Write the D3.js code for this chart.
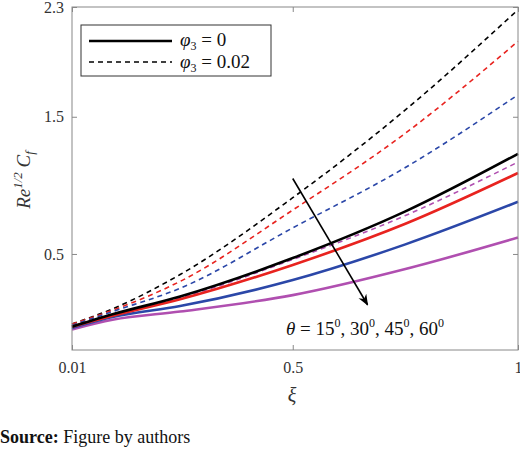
<!DOCTYPE html>
<html><head><meta charset="utf-8">
<script src="https://cdn.jsdelivr.net/npm/d3@7"></script>
<style>body{margin:0;background:#fff}</style>
</head><body><svg id="c" width="520" height="450" font-family="'Liberation Serif','DejaVu Serif',serif"></svg>
<script>
var xs = [0.01, 0.1, 0.25, 0.5, 0.75, 1]
// phi3 = 0 (solid) for theta = 15, 30, 45, 60
var solid15 = [-0.03, 0.06, 0.19, 0.47, 0.81, 1.23]
var solid30 = [-0.03, 0.05, 0.17, 0.42, 0.72, 1.09]
var solid45 = [-0.04, 0.04, 0.12, 0.31, 0.57, 0.88]
var solid60 = [-0.05, 0.02, 0.08, 0.20, 0.39, 0.62]
// phi3 = 0.02 (dashed)
var dash15 = [-0.01, 0.10, 0.35, 0.91, 1.55, 2.28]
var dash30 = [-0.01, 0.09, 0.30, 0.82, 1.38, 2.05]
var dash45 = [-0.02, 0.08, 0.25, 0.69, 1.13, 1.66]
var dash60 = [-0.03, 0.06, 0.18, 0.46, 0.78, 1.17]
var colors = ['#000000', '#e8231f', '#2b47a8', '#b04fb0']
var xTicks = [0.01, 0.5, 1]
var yTicks = [0.5, 1.5, 2.3]
var serif = "'Liberation Serif','DejaVu Serif',serif"

var svg = d3.select('#c')
var L = 72, R = 518, T = 7, B = 350
var x = d3.scaleLinear().domain([0.01, 1]).range([L, R])
var y = d3.scaleLinear().domain([-0.2, 2.3]).range([B, T])
var line = d3.line().x(function (d, i) { return x(xs[i]) }).y(function (d) { return y(d) }).curve(d3.curveMonotoneX)

var dashed = [dash15, dash30, dash45, dash60]
var solids = [solid15, solid30, solid45, solid60]
dashed.forEach(function (s, i) {
    svg.append('path').attr('d', line(s)).attr('fill', 'none')
        .attr('stroke', colors[i]).attr('stroke-width', 1.6).attr('stroke-dasharray', '5,4')
})
for (var i = 3; i >= 0; i--) {
    svg.append('path').attr('d', line(solids[i])).attr('fill', 'none')
        .attr('stroke', colors[i]).attr('stroke-width', 2.6)
}

// axes box
svg.append('rect').attr('x', L).attr('y', T).attr('width', R - L).attr('height', B - T)
    .attr('fill', 'none').attr('stroke', '#888').attr('stroke-width', 1)
svg.append('g').attr('transform', 'translate(0,' + B + ')')
    .call(d3.axisBottom(x).tickValues(xTicks).tickSize(-5).tickFormat(d3.format('')))
svg.append('g').attr('transform', 'translate(0,' + T + ')')
    .call(d3.axisTop(x).tickValues(xTicks).tickSize(-5).tickFormat(''))
svg.append('g').attr('transform', 'translate(' + L + ',0)')
    .call(d3.axisLeft(y).tickValues(yTicks).tickSize(-5).tickFormat(d3.format('')))
svg.append('g').attr('transform', 'translate(' + R + ',0)')
    .call(d3.axisRight(y).tickValues(yTicks).tickSize(-5).tickFormat(''))
svg.selectAll('.domain').remove()
svg.selectAll('g').attr('font-family', serif)
svg.selectAll('.tick line').attr('stroke', '#888')
svg.selectAll('.tick text').attr('font-size', 16).attr('fill', '#333')
svg.selectAll('.tick text').each(function (d) {
    var t = d3.select(this)
    if (t.attr('dy') === '0.71em') { t.attr('y', 12); if (d === 1) t.attr('text-anchor', 'end').attr('dx', 4) }
    else t.attr('x', -8)
})

// labels
svg.append('text').attr('x', 292).attr('y', 402).attr('text-anchor', 'middle')
    .attr('font-size', 20).attr('font-style', 'italic').attr('fill', '#333').text('ξ')
var yl = svg.append('text').attr('transform', 'translate(30,180) rotate(-90)').attr('text-anchor', 'middle')
    .attr('font-size', 19).attr('font-style', 'italic').attr('fill', '#333')
yl.append('tspan').text('Re')
yl.append('tspan').attr('font-size', 13).attr('dy', -8).text('1/2')
yl.append('tspan').attr('dy', 8).text(' C')
yl.append('tspan').attr('font-size', 13).attr('dy', 4).text('f')

// arrow
svg.append('defs').append('marker').attr('id', 'ah').attr('viewBox', '0 0 10 10')
    .attr('refX', 9).attr('refY', 5).attr('markerWidth', 7).attr('markerHeight', 7).attr('orient', 'auto')
    .append('path').attr('d', 'M0,1 L10,5 L0,9 L3,5 Z').attr('fill', '#000')
svg.append('line').attr('x1', x(0.5)).attr('y1', y(1.05)).attr('x2', x(0.666)).attr('y2', y(0.13))
    .attr('stroke', '#000').attr('stroke-width', 1.6).attr('marker-end', 'url(#ah)')
var th = svg.append('text').attr('x', x(0.485)).attr('y', y(-0.09)).attr('font-size', 19).attr('fill', '#111')
th.append('tspan').attr('font-style', 'italic').text('θ')
;['15', '30', '45', '60'].forEach(function (v, i) {
    th.append('tspan').attr('dy', i ? 8 : 0).text((i ? ', ' : ' = ') + v)
    th.append('tspan').attr('font-size', 12).attr('dy', -8).text('0')
})

// legend
var lg = svg.append('g')
lg.append('rect').attr('x', 81).attr('y', 25).attr('width', 190).attr('height', 51)
    .attr('fill', '#fff').attr('stroke', '#333').attr('stroke-width', 1)
lg.append('line').attr('x1', 89).attr('x2', 172).attr('y1', 41).attr('y2', 41).attr('stroke', '#000').attr('stroke-width', 2.6)
lg.append('line').attr('x1', 89).attr('x2', 172).attr('y1', 62).attr('y2', 62).attr('stroke', '#000').attr('stroke-width', 1.6).attr('stroke-dasharray', '5,4')
;['0', '0.02'].forEach(function (v, i) {
    var t = lg.append('text').attr('x', 180).attr('y', 46 + i * 22).attr('font-size', 19).attr('fill', '#111')
    t.append('tspan').attr('font-style', 'italic').text('φ')
    t.append('tspan').attr('font-size', 12).attr('dy', 4).text('3')
    t.append('tspan').attr('dy', -4).text(' = ' + v)
})

// source
var src = svg.append('text').attr('x', 0).attr('y', 443).attr('font-size', 18).attr('fill', '#111')
src.append('tspan').attr('font-weight', 'bold').text('Source:')
src.append('tspan').text(' Figure by authors')
</script></body></html>
